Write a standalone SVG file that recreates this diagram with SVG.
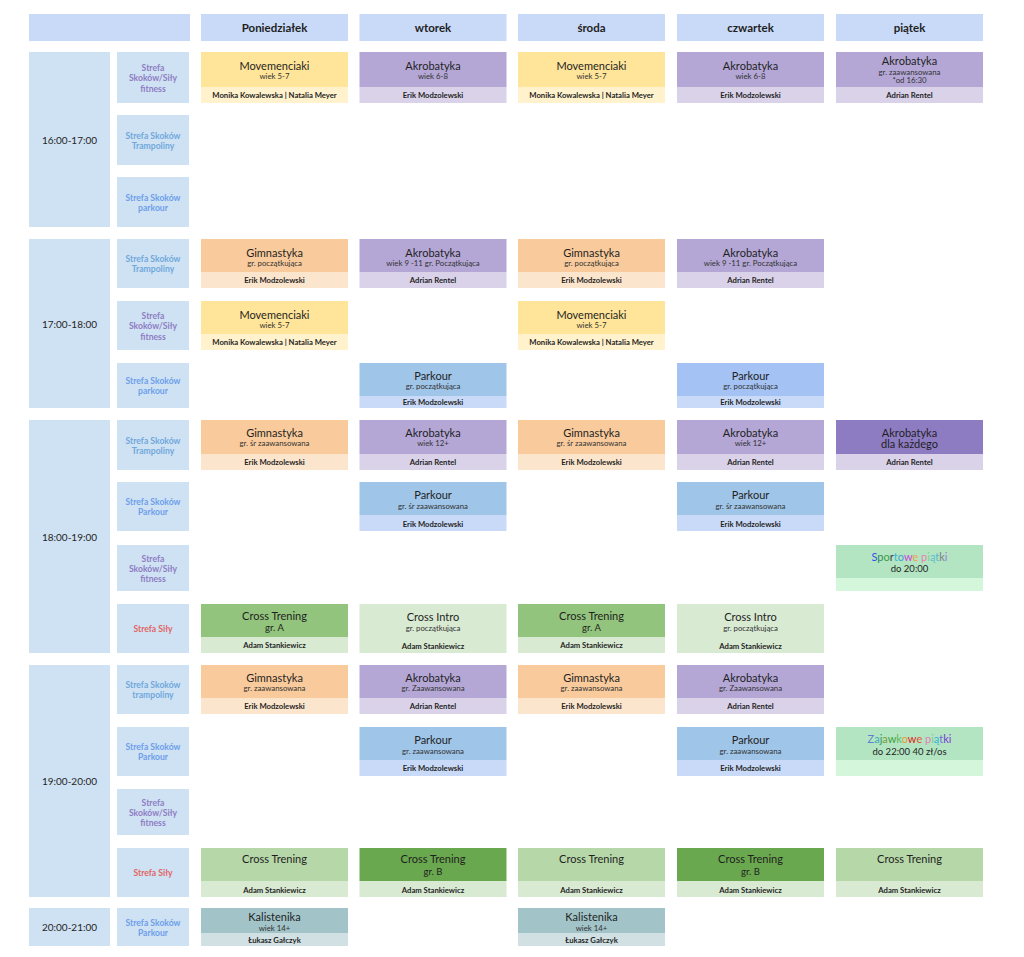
<svg xmlns="http://www.w3.org/2000/svg" width="1024" height="957" viewBox="0 0 1024 957">
<style>
text{font-family:Lato,"Liberation Sans",sans-serif;text-anchor:middle}
.hd{fill:#c9daf8}
.ht{font-size:11.5px;font-weight:bold;fill:#1f1f1f}
.tc{fill:#cfe2f3}
.tt{font-size:10px;fill:#1f1f1f}
.z{font-size:8.6px;font-weight:bold}
.zp{fill:#8e7cc3}.zt{fill:#6fa8dc}.zk{fill:#6d9eeb}.zs{fill:#e06666}
.t1{font-size:11px;fill:#1f1f1f}
.t2{font-size:7.8px;fill:#333}
.t3{font-size:9.5px;fill:#1f1f1f}
.in{font-size:7.7px;font-weight:bold;fill:#1f1f1f}
.myT{fill:#ffe599}.myB{fill:#fff2cc}
.akT{fill:#b4a7d6}.akB{fill:#d9d2e9}.akD{fill:#8e7cc3}
.gmT{fill:#f9cb9c}.gmB{fill:#fce5cd}
.pkT{fill:#9fc5e8}.pkT2{fill:#a4c2f4}.pkB{fill:#c9daf8}
.cxA{fill:#93c47d}.cxB{fill:#6aa84f}.cxL{fill:#b6d7a8}.cxb{fill:#d9ead3}
.spT{fill:#b3e5c2}.spB{fill:#d4f7dc}
.kaT{fill:#a2c4c9}.kaB{fill:#d0e0e3}
</style>
<rect width="1024" height="957" fill="#ffffff"/>

<g id="header">
<rect class="hd" x="29" y="14" width="161" height="27"/>
<rect class="hd" x="201" y="14" width="147" height="27"/>
<rect class="hd" x="359.5" y="14" width="147" height="27"/>
<rect class="hd" x="518" y="14" width="147" height="27"/>
<rect class="hd" x="677" y="14" width="147" height="27"/>
<rect class="hd" x="836" y="14" width="147" height="27"/>
<text class="ht" x="274.5" y="31.5">Poniedziałek</text>
<text class="ht" x="433" y="31.5">wtorek</text>
<text class="ht" x="591.5" y="31.5">środa</text>
<text class="ht" x="750.5" y="31.5">czwartek</text>
<text class="ht" x="909.5" y="31.5">piątek</text>
</g>

<g id="times">
<rect class="tc" x="29" y="52" width="81" height="175"/><text class="tt" x="69.5" y="143.5">16:00-17:00</text>
<rect class="tc" x="29" y="239" width="81" height="169"/><text class="tt" x="69.5" y="327.5">17:00-18:00</text>
<rect class="tc" x="29" y="420" width="81" height="233"/><text class="tt" x="69.5" y="540.5">18:00-19:00</text>
<rect class="tc" x="29" y="665" width="81" height="232"/><text class="tt" x="69.5" y="785">19:00-20:00</text>
<rect class="tc" x="29" y="908" width="81" height="38"/><text class="tt" x="69.5" y="931">20:00-21:00</text>
</g>

<g id="zones">
<rect class="tc" x="117" y="52" width="72" height="51"/>
<text class="z zp" x="153" y="71">Strefa</text><text class="z zp" x="153" y="81.3">Skoków/Siły</text><text class="z zp" x="153" y="91.6">fitness</text>
<rect class="tc" x="117" y="115" width="72" height="50"/>
<text class="z zt" x="153" y="138.5">Strefa Skoków</text><text class="z zt" x="153" y="148.8">Trampoliny</text>
<rect class="tc" x="117" y="177" width="72" height="50"/>
<text class="z zk" x="153" y="200.5">Strefa Skoków</text><text class="z zk" x="153" y="210.8">parkour</text>

<rect class="tc" x="117" y="239" width="72" height="49"/>
<text class="z zt" x="153" y="262">Strefa Skoków</text><text class="z zt" x="153" y="272.3">Trampoliny</text>
<rect class="tc" x="117" y="301" width="72" height="49"/>
<text class="z zp" x="153" y="319">Strefa</text><text class="z zp" x="153" y="329.3">Skoków/Siły</text><text class="z zp" x="153" y="339.6">fitness</text>
<rect class="tc" x="117" y="363" width="72" height="45"/>
<text class="z zk" x="153" y="384">Strefa Skoków</text><text class="z zk" x="153" y="394.3">parkour</text>

<rect class="tc" x="117" y="420" width="72" height="50"/>
<text class="z zt" x="153" y="443.5">Strefa Skoków</text><text class="z zt" x="153" y="453.8">Trampoliny</text>
<rect class="tc" x="117" y="482" width="72" height="49"/>
<text class="z zk" x="153" y="505">Strefa Skoków</text><text class="z zk" x="153" y="515.3">Parkour</text>
<rect class="tc" x="117" y="545" width="72" height="46"/>
<text class="z zp" x="153" y="561.5">Strefa</text><text class="z zp" x="153" y="571.8">Skoków/Siły</text><text class="z zp" x="153" y="582.1">fitness</text>
<rect class="tc" x="117" y="604" width="72" height="49"/>
<text class="z zs" x="153" y="631.5">Strefa Siły</text>

<rect class="tc" x="117" y="665" width="72" height="49"/>
<text class="z zt" x="153" y="688">Strefa Skoków</text><text class="z zt" x="153" y="698.3">trampoliny</text>
<rect class="tc" x="117" y="727" width="72" height="49"/>
<text class="z zk" x="153" y="750">Strefa Skoków</text><text class="z zk" x="153" y="760.3">Parkour</text>
<rect class="tc" x="117" y="789" width="72" height="46"/>
<text class="z zp" x="153" y="805.5">Strefa</text><text class="z zp" x="153" y="815.8">Skoków/Siły</text><text class="z zp" x="153" y="826.1">fitness</text>
<rect class="tc" x="117" y="848" width="72" height="49"/>
<text class="z zs" x="153" y="875.5">Strefa Siły</text>

<rect class="tc" x="117" y="908" width="72" height="38"/>
<text class="z zk" x="153" y="925.5">Strefa Skoków</text><text class="z zk" x="153" y="935.8">Parkour</text>
</g>

<!-- Block 1 -->
<g id="b1-mon"><rect class="myT" x="201" y="52" width="147" height="35"/><rect class="myB" x="201" y="87" width="147" height="16"/>
<text class="t1" x="274.5" y="70">Movemenciaki</text><text class="t2" x="274.5" y="79">wiek 5-7</text><text class="in" x="274.5" y="97.7">Monika Kowalewska | Natalia Meyer</text></g>
<g id="b1-tue"><rect class="akT" x="359.5" y="52" width="147" height="35"/><rect class="akB" x="359.5" y="87" width="147" height="16"/>
<text class="t1" x="433" y="70">Akrobatyka</text><text class="t2" x="433" y="79">wiek 6-8</text><text class="in" x="433" y="97.7">Erik Modzolewski</text></g>
<g id="b1-wed"><rect class="myT" x="518" y="52" width="147" height="35"/><rect class="myB" x="518" y="87" width="147" height="16"/>
<text class="t1" x="591.5" y="70">Movemenciaki</text><text class="t2" x="591.5" y="79">wiek 5-7</text><text class="in" x="591.5" y="97.7">Monika Kowalewska | Natalia Meyer</text></g>
<g id="b1-thu"><rect class="akT" x="677" y="52" width="147" height="35"/><rect class="akB" x="677" y="87" width="147" height="16"/>
<text class="t1" x="750.5" y="70">Akrobatyka</text><text class="t2" x="750.5" y="79">wiek 6-8</text><text class="in" x="750.5" y="97.7">Erik Modzolewski</text></g>
<g id="b1-fri"><rect class="akT" x="836" y="52" width="147" height="35"/><rect class="akB" x="836" y="87" width="147" height="16"/>
<text class="t1" x="909.5" y="65">Akrobatyka</text><text class="t2" x="909.5" y="75">gr. zaawansowana</text><text class="t2" x="909.5" y="83.4">*od 16:30</text><text class="in" x="909.5" y="97.7">Adrian Rentel</text></g>

<!-- Block 2 -->
<g id="b2-mon-a"><rect class="gmT" x="201" y="239" width="147" height="33"/><rect class="gmB" x="201" y="272" width="147" height="16"/>
<text class="t1" x="274.5" y="256.5">Gimnastyka</text><text class="t2" x="274.5" y="265.5">gr. początkująca</text><text class="in" x="274.5" y="282.7">Erik Modzolewski</text></g>
<g id="b2-tue-a"><rect class="akT" x="359.5" y="239" width="147" height="33"/><rect class="akB" x="359.5" y="272" width="147" height="16"/>
<text class="t1" x="433" y="256.5">Akrobatyka</text><text class="t2" x="433" y="265.5">wiek 9 -11 gr. Początkująca</text><text class="in" x="433" y="282.7">Adrian Rentel</text></g>
<g id="b2-wed-a"><rect class="gmT" x="518" y="239" width="147" height="33"/><rect class="gmB" x="518" y="272" width="147" height="16"/>
<text class="t1" x="591.5" y="256.5">Gimnastyka</text><text class="t2" x="591.5" y="265.5">gr. początkująca</text><text class="in" x="591.5" y="282.7">Erik Modzolewski</text></g>
<g id="b2-thu-a"><rect class="akT" x="677" y="239" width="147" height="33"/><rect class="akB" x="677" y="272" width="147" height="16"/>
<text class="t1" x="750.5" y="256.5">Akrobatyka</text><text class="t2" x="750.5" y="265.5">wiek 9 -11 gr. Początkująca</text><text class="in" x="750.5" y="282.7">Adrian Rentel</text></g>
<g id="b2-mon-b"><rect class="myT" x="201" y="301" width="147" height="33"/><rect class="myB" x="201" y="334" width="147" height="16"/>
<text class="t1" x="274.5" y="318.5">Movemenciaki</text><text class="t2" x="274.5" y="327.5">wiek 5-7</text><text class="in" x="274.5" y="344.7">Monika Kowalewska | Natalia Meyer</text></g>
<g id="b2-wed-b"><rect class="myT" x="518" y="301" width="147" height="33"/><rect class="myB" x="518" y="334" width="147" height="16"/>
<text class="t1" x="591.5" y="318.5">Movemenciaki</text><text class="t2" x="591.5" y="327.5">wiek 5-7</text><text class="in" x="591.5" y="344.7">Monika Kowalewska | Natalia Meyer</text></g>
<g id="b2-tue-c"><rect class="pkT" x="359.5" y="363" width="147" height="33"/><rect class="pkB" x="359.5" y="396" width="147" height="12"/>
<text class="t1" x="433" y="379.5">Parkour</text><text class="t2" x="433" y="389">gr. początkująca</text><text class="in" x="433" y="405">Erik Modzolewski</text></g>
<g id="b2-thu-c"><rect class="pkT2" x="677" y="363" width="147" height="33"/><rect class="pkB" x="677" y="396" width="147" height="12"/>
<text class="t1" x="750.5" y="379.5">Parkour</text><text class="t2" x="750.5" y="389">gr. początkująca</text><text class="in" x="750.5" y="405">Erik Modzolewski</text></g>

<!-- Block 3 -->
<g id="b3-mon-a"><rect class="gmT" x="201" y="420" width="147" height="34"/><rect class="gmB" x="201" y="454" width="147" height="16"/>
<text class="t1" x="274.5" y="437">Gimnastyka</text><text class="t2" x="274.5" y="446.4">gr. śr zaawansowana</text><text class="in" x="274.5" y="465">Erik Modzolewski</text></g>
<g id="b3-tue-a"><rect class="akT" x="359.5" y="420" width="147" height="34"/><rect class="akB" x="359.5" y="454" width="147" height="16"/>
<text class="t1" x="433" y="437">Akrobatyka</text><text class="t2" x="433" y="446.4">wiek 12+</text><text class="in" x="433" y="465">Adrian Rentel</text></g>
<g id="b3-wed-a"><rect class="gmT" x="518" y="420" width="147" height="34"/><rect class="gmB" x="518" y="454" width="147" height="16"/>
<text class="t1" x="591.5" y="437">Gimnastyka</text><text class="t2" x="591.5" y="446.4">gr. śr zaawansowana</text><text class="in" x="591.5" y="465">Erik Modzolewski</text></g>
<g id="b3-thu-a"><rect class="akT" x="677" y="420" width="147" height="34"/><rect class="akB" x="677" y="454" width="147" height="16"/>
<text class="t1" x="750.5" y="437">Akrobatyka</text><text class="t2" x="750.5" y="446.4">wiek 12+</text><text class="in" x="750.5" y="465">Adrian Rentel</text></g>
<g id="b3-fri-a"><rect class="akD" x="836" y="420" width="147" height="34"/><rect class="akB" x="836" y="454" width="147" height="16"/>
<text class="t1" x="909.5" y="437">Akrobatyka</text><text class="t1" x="909.5" y="448">dla każdego</text><text class="in" x="909.5" y="465">Adrian Rentel</text></g>
<g id="b3-tue-b"><rect class="pkT" x="359.5" y="482" width="147" height="33"/><rect class="pkB" x="359.5" y="515" width="147" height="16"/>
<text class="t1" x="433" y="499">Parkour</text><text class="t2" x="433" y="509">gr. śr zaawansowana</text><text class="in" x="433" y="527">Erik Modzolewski</text></g>
<g id="b3-thu-b"><rect class="pkT" x="677" y="482" width="147" height="33"/><rect class="pkB" x="677" y="515" width="147" height="16"/>
<text class="t1" x="750.5" y="499">Parkour</text><text class="t2" x="750.5" y="509">gr. śr zaawansowana</text><text class="in" x="750.5" y="527">Erik Modzolewski</text></g>
<g id="b3-fri-c"><rect class="spT" x="836" y="545" width="147" height="33"/><rect class="spB" x="836" y="578" width="147" height="13"/>
<text class="t1" x="909.5" y="560.5"><tspan fill="#2f4ff0">S</tspan><tspan fill="#2f8a5c">p</tspan><tspan fill="#3aa03a">o</tspan><tspan fill="#444444">r</tspan><tspan fill="#2fb8e0">t</tspan><tspan fill="#4aa0d0">o</tspan><tspan fill="#d03fd8">w</tspan><tspan fill="#f09a50">e</tspan> <tspan fill="#e880b0">p</tspan><tspan fill="#80d090">i</tspan><tspan fill="#5ac0c8">ą</tspan><tspan fill="#60b0d8">t</tspan><tspan fill="#808080">k</tspan><tspan fill="#9a7ae8">i</tspan></text>
<text class="t3" x="909.5" y="571.5">do 20:00</text></g>
<g id="b3-mon-d"><rect class="cxA" x="201" y="604" width="147" height="33"/><rect class="cxb" x="201" y="637" width="147" height="16"/>
<text class="t1" x="274.5" y="619.5">Cross Trening</text><text class="t3" x="274.5" y="631">gr. A</text><text class="in" x="274.5" y="648.2">Adam Stankiewicz</text></g>
<g id="b3-tue-d"><rect class="cxb" x="359.5" y="604" width="147" height="49"/>
<text class="t1" x="433" y="620.5">Cross Intro</text><text class="t2" x="433" y="631">gr. początkująca</text><text class="in" x="433" y="648.7">Adam Stankiewicz</text></g>
<g id="b3-wed-d"><rect class="cxA" x="518" y="604" width="147" height="33"/><rect class="cxb" x="518" y="637" width="147" height="16"/>
<text class="t1" x="591.5" y="619.5">Cross Trening</text><text class="t3" x="591.5" y="631">gr. A</text><text class="in" x="591.5" y="648.2">Adam Stankiewicz</text></g>
<g id="b3-thu-d"><rect class="cxb" x="677" y="604" width="147" height="49"/>
<text class="t1" x="750.5" y="620.5">Cross Intro</text><text class="t2" x="750.5" y="631">gr. początkująca</text><text class="in" x="750.5" y="648.7">Adam Stankiewicz</text></g>

<!-- Block 4 -->
<g id="b4-mon-a"><rect class="gmT" x="201" y="665" width="147" height="33"/><rect class="gmB" x="201" y="698" width="147" height="16"/>
<text class="t1" x="274.5" y="682">Gimnastyka</text><text class="t2" x="274.5" y="691.4">gr. zaawansowana</text><text class="in" x="274.5" y="709">Erik Modzolewski</text></g>
<g id="b4-tue-a"><rect class="akT" x="359.5" y="665" width="147" height="33"/><rect class="akB" x="359.5" y="698" width="147" height="16"/>
<text class="t1" x="433" y="682">Akrobatyka</text><text class="t2" x="433" y="691.4">gr. Zaawansowana</text><text class="in" x="433" y="709">Adrian Rentel</text></g>
<g id="b4-wed-a"><rect class="gmT" x="518" y="665" width="147" height="33"/><rect class="gmB" x="518" y="698" width="147" height="16"/>
<text class="t1" x="591.5" y="682">Gimnastyka</text><text class="t2" x="591.5" y="691.4">gr. zaawansowana</text><text class="in" x="591.5" y="709">Erik Modzolewski</text></g>
<g id="b4-thu-a"><rect class="akT" x="677" y="665" width="147" height="33"/><rect class="akB" x="677" y="698" width="147" height="16"/>
<text class="t1" x="750.5" y="682">Akrobatyka</text><text class="t2" x="750.5" y="691.4">gr. Zaawansowana</text><text class="in" x="750.5" y="709">Adrian Rentel</text></g>
<g id="b4-tue-b"><rect class="pkT" x="359.5" y="727" width="147" height="33"/><rect class="pkB" x="359.5" y="760" width="147" height="16"/>
<text class="t1" x="433" y="743.5">Parkour</text><text class="t2" x="433" y="753.7">gr. zaawansowana</text><text class="in" x="433" y="771.2">Erik Modzolewski</text></g>
<g id="b4-thu-b"><rect class="pkT" x="677" y="727" width="147" height="33"/><rect class="pkB" x="677" y="760" width="147" height="16"/>
<text class="t1" x="750.5" y="743.5">Parkour</text><text class="t2" x="750.5" y="753.7">gr. zaawansowana</text><text class="in" x="750.5" y="771.2">Erik Modzolewski</text></g>
<g id="b4-fri-b"><rect class="spT" x="836" y="727" width="147" height="33"/><rect class="spB" x="836" y="760" width="147" height="16"/>
<text class="t1" x="909.5" y="743"><tspan fill="#5a80d0">Z</tspan><tspan fill="#40a8c0">a</tspan><tspan fill="#2f9a60">j</tspan><tspan fill="#7a9a40">a</tspan><tspan fill="#40a040">w</tspan><tspan fill="#60b860">k</tspan><tspan fill="#e89a30">o</tspan><tspan fill="#e02020">w</tspan><tspan fill="#e85030">e</tspan> <tspan fill="#e080b8">p</tspan><tspan fill="#80c890">i</tspan><tspan fill="#30b8d8">ą</tspan><tspan fill="#8060e0">t</tspan><tspan fill="#7040d0">k</tspan><tspan fill="#9a30e0">i</tspan></text>
<text class="t3" x="909.5" y="754.8">do 22:00 40 zł/os</text></g>
<g id="b4-mon-d"><rect class="cxL" x="201" y="848" width="147" height="33"/><rect class="cxb" x="201" y="881" width="147" height="16"/>
<text class="t1" x="274.5" y="863">Cross Trening</text><text class="in" x="274.5" y="892.7">Adam Stankiewicz</text></g>
<g id="b4-tue-d"><rect class="cxB" x="359.5" y="848" width="147" height="33"/><rect class="cxb" x="359.5" y="881" width="147" height="16"/>
<text class="t1" x="433" y="863">Cross Trening</text><text class="t3" x="433" y="875">gr. B</text><text class="in" x="433" y="892.7">Adam Stankiewicz</text></g>
<g id="b4-wed-d"><rect class="cxL" x="518" y="848" width="147" height="33"/><rect class="cxb" x="518" y="881" width="147" height="16"/>
<text class="t1" x="591.5" y="863">Cross Trening</text><text class="in" x="591.5" y="892.7">Adam Stankiewicz</text></g>
<g id="b4-thu-d"><rect class="cxB" x="677" y="848" width="147" height="33"/><rect class="cxb" x="677" y="881" width="147" height="16"/>
<text class="t1" x="750.5" y="863">Cross Trening</text><text class="t3" x="750.5" y="875">gr. B</text><text class="in" x="750.5" y="892.7">Adam Stankiewicz</text></g>
<g id="b4-fri-d"><rect class="cxL" x="836" y="848" width="147" height="33"/><rect class="cxb" x="836" y="881" width="147" height="16"/>
<text class="t1" x="909.5" y="863">Cross Trening</text><text class="in" x="909.5" y="892.7">Adam Stankiewicz</text></g>

<!-- Block 5 -->
<g id="b5-mon"><rect class="kaT" x="201" y="908" width="147" height="25"/><rect class="kaB" x="201" y="933" width="147" height="13"/>
<text class="t1" x="274.5" y="920.5">Kalistenika</text><text class="t2" x="274.5" y="930.7">wiek 14+</text><text class="in" x="274.5" y="942.5">Łukasz Gałczyk</text></g>
<g id="b5-wed"><rect class="kaT" x="518" y="908" width="147" height="25"/><rect class="kaB" x="518" y="933" width="147" height="13"/>
<text class="t1" x="591.5" y="920.5">Kalistenika</text><text class="t2" x="591.5" y="930.7">wiek 14+</text><text class="in" x="591.5" y="942.5">Łukasz Gałczyk</text></g>

<g id="connectors"/>
</svg>
